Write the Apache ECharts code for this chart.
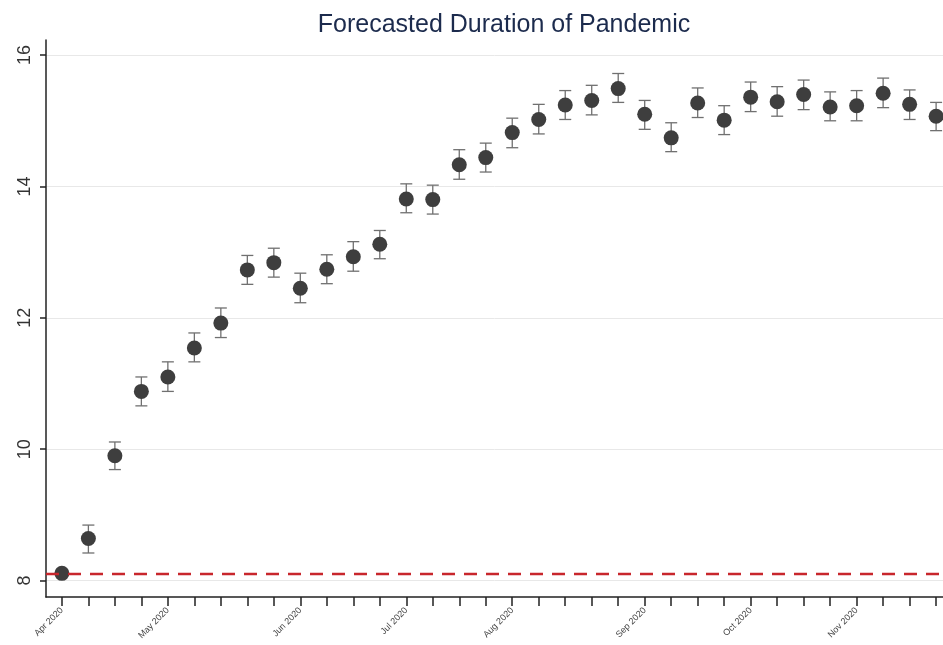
<!DOCTYPE html>
<html>
<head>
<meta charset="utf-8">
<script src="https://cdn.jsdelivr.net/npm/echarts@6/dist/echarts.min.js"></script>
<style>html,body{margin:0;padding:0;background:#fff}#c{width:943px;height:645px}</style>
</head>
<body>
<div id="c"></div>
<script>
const weeks = [0,1,2,3,4,5,6,7,8,9,10,11,12,13,14,15,16,17,18,19,20,21,22,23,24,25,26,27,28,29,30,31,32,33];
const meanDuration = [8.11, 8.64, 9.90, 10.88, 11.10, 11.54, 11.92, 12.73, 12.84, 12.45, 12.74, 12.93, 13.12, 13.81, 13.80, 14.33, 14.44, 14.82, 15.02, 15.24, 15.31, 15.49, 15.10, 14.74, 15.27, 15.01, 15.36, 15.29, 15.40, 15.21, 15.23, 15.42, 15.25, 15.07];
const lowerCI = [8.11, 8.42, 9.69, 10.66, 10.88, 11.33, 11.70, 12.51, 12.62, 12.23, 12.52, 12.71, 12.90, 13.60, 13.58, 14.11, 14.22, 14.59, 14.80, 15.02, 15.09, 15.28, 14.87, 14.53, 15.05, 14.79, 15.14, 15.07, 15.17, 15.00, 15.00, 15.20, 15.02, 14.85];
const upperCI = [8.11, 8.845, 10.11, 11.10, 11.33, 11.77, 12.15, 12.95, 13.06, 12.68, 12.96, 13.16, 13.33, 14.04, 14.02, 14.56, 14.66, 15.04, 15.25, 15.46, 15.54, 15.72, 15.31, 14.97, 15.50, 15.23, 15.59, 15.52, 15.62, 15.44, 15.46, 15.65, 15.47, 15.28];
const monthTickIdx = [0, 4, 9, 13, 17, 22, 26, 30];
const monthLabels = ['Apr 2020', 'May 2020', 'Jun 2020', 'Jul 2020', 'Aug 2020', 'Sep 2020', 'Oct 2020', 'Nov 2020'];
const yTicks = [8, 10, 12, 14, 16];
const baseline = 8.11;
const titleText = 'Forecasted Duration of Pandemic';

const chart = echarts.init(document.getElementById('c'), null, {renderer: 'canvas'});
const font = 'Liberation Sans, Arial, sans-serif';
const errData = weeks.map((w, i) => [w, lowerCI[i], upperCI[i]]);
const ptData = weeks.map((w, i) => [w, meanDuration[i]]);

chart.setOption({
  animation: false,
  backgroundColor: '#fff',
  title: {
    text: titleText,
    left: 499, top: 8, textAlign: 'center',
    textStyle: {fontFamily: font, fontSize: 25, fontWeight: 'normal', color: '#1c2b4d'}
  },
  grid: {left: 46, right: 0, top: 40, bottom: 48, containLabel: false},
  xAxis: {
    type: 'value', min: -0.6, max: 33.26,
    axisLine: {show: true, onZero: false, lineStyle: {color: '#222', width: 1.5}},
    axisTick: {show: true, length: 9, customValues: weeks, lineStyle: {color: '#222', width: 1.5}},
    axisLabel: {
      customValues: monthTickIdx, rotate: 45, fontSize: 9, fontFamily: font, color: '#444', margin: 12,
      formatter: v => monthLabels[monthTickIdx.indexOf(Math.round(v))] || ''
    },
    splitLine: {show: false}
  },
  yAxis: {
    type: 'value', min: 7.75, max: 16.23,
    axisLine: {show: true, onZero: false, lineStyle: {color: '#222', width: 1.5}},
    axisTick: {show: true, length: 6, customValues: yTicks, lineStyle: {color: '#222', width: 1.5}},
    axisLabel: {customValues: yTicks, rotate: 90, fontSize: 18, fontFamily: font, color: '#333', margin: 12},
    splitLine: {show: true, lineStyle: {color: '#e8e8e8', width: 1}}
  },
  series: [
    {
      type: 'custom',
      data: errData,
      z: 2,
      renderItem: function (params, api) {
        const x = api.value(0);
        const lo = api.coord([x, api.value(1)]);
        const hi = api.coord([x, api.value(2)]);
        if (Math.abs(lo[1] - hi[1]) < 1) return null;
        const cap = 6;
        const st = {stroke: '#707070', lineWidth: 1.3};
        return {
          type: 'group',
          children: [
            {type: 'line', shape: {x1: lo[0], y1: lo[1], x2: hi[0], y2: hi[1]}, style: st},
            {type: 'line', shape: {x1: lo[0] - cap, y1: lo[1], x2: lo[0] + cap, y2: lo[1]}, style: st},
            {type: 'line', shape: {x1: hi[0] - cap, y1: hi[1], x2: hi[0] + cap, y2: hi[1]}, style: st}
          ]
        };
      }
    },
    {
      type: 'scatter',
      data: ptData,
      symbol: 'circle',
      symbolSize: 15,
      z: 3,
      itemStyle: {color: '#3e3e3e', opacity: 1},
      markLine: {
        silent: true, symbol: ['none', 'none'], label: {show: false},
        lineStyle: {color: '#c8262c', type: [13, 9], width: 2.3},
        data: [{yAxis: baseline}]
      }
    }
  ]
});
</script>
</body>
</html>
